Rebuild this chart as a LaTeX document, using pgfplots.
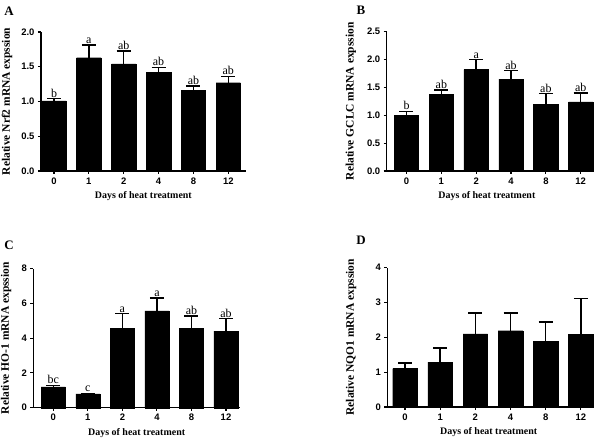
\documentclass[border=0pt]{standalone}
\usepackage{fontspec}
\setmainfont{Liberation Serif}
\setsansfont{Liberation Sans}
\usepackage{pgfplots}
\usepackage{pgfplotstable}
\pgfplotsset{compat=1.18}

\pgfplotstableread{
x y e t lab
0 1.01 0.03 1.04 b
1 1.63 0.18 1.81 a
2 1.54 0.19 1.73 ab
3 1.42 0.07 1.49 ab
4 1.16 0.06 1.22 ab
5 1.27 0.09 1.36 ab
}\dataA
\pgfplotstableread{
x y e t lab
0 1.00 0.07 1.07 b
1 1.37 0.08 1.45 ab
2 1.82 0.18 2.00 a
3 1.65 0.15 1.80 ab
4 1.19 0.20 1.39 ab
5 1.24 0.16 1.40 ab
}\dataB
\pgfplotstableread{
x y e t lab
0 1.20 0.08 1.28 bc
1 0.80 0.03 0.83 c
2 4.57 0.84 5.41 a
3 5.57 0.74 6.31 a
4 4.55 0.73 5.28 ab
5 4.41 0.71 5.12 ab
}\dataC
\pgfplotstableread{
x y e
0 1.10 0.16
1 1.29 0.41
2 2.10 0.60
3 2.19 0.51
4 1.89 0.55
5 2.09 1.03
}\dataD

\pgfplotsset{
  panel/.style={
    scale only axis,
    anchor=south west,
    axis x line*=bottom,
    axis y line*=left,
    axis line style={line width=1.1pt, -},
    tick style={line width=1.1pt, black},
    tick align=outside,
    major tick length=3bp,
    xtick={0,1,2,3,4,5},
    xticklabels={0,1,2,4,8,12},
    ymin=0,
    clip=false,
    /pgf/number format/assume math mode=true,
    ticklabel style={font=\sffamily\bfseries\fontsize{9.5}{10}\selectfont},
    xlabel={Days of heat treatment},
    xlabel style={font=\bfseries\fontsize{10}{12}\selectfont},
    ylabel style={font=\bfseries\fontsize{11.5}{12}\selectfont},
    xlabel style={at={(axis description cs:0.5,-0.18)}, anchor=center},
  },
  bars/.style={
    ybar, bar width=0.7, fill=black, draw=black, bar shift=0pt,
    error bars/.cd, y dir=plus, y explicit,
    error bar style={line width=1.5pt, black},
    error mark options={rotate=90, mark size=7bp, line width=1.5pt, black},
  },
  letters/.style={
    draw=none, mark=none, nodes near coords, point meta=explicit symbolic,
    nodes near coords style={anchor=south, inner sep=1.2pt,
      font=\fontsize{12}{13}\selectfont, text=black},
  },
}

\begin{document}
\begin{tikzpicture}
\useasboundingbox (0,0) rectangle (600bp,442bp);

% Panel A
\begin{axis}[panel,
  at={(41bp,271bp)}, width=204.7bp, height=139bp,
  xmin=-0.373, xmax=5.5, ymax=2.0,
  ytick={0,0.5,1.0,1.5,2.0},
  yticklabel style={/pgf/number format/.cd, fixed, fixed zerofill, precision=1},
  ylabel={Relative Nrf2 mRNA expssion},
  ylabel style={at={(axis description cs:-0.166,0.5)}, anchor=center},
]
\addplot[bars] table[x=x, y=y, y error=e] {\dataA};
\addplot[letters] table[x=x, y=t, meta=lab] {\dataA};
\end{axis}

% Panel B
\begin{axis}[panel,
  at={(386.7bp,271bp)}, width=200.3bp, height=139.3bp,
  xmin=-0.568, xmax=5.18, ymax=2.5,
  ytick={0,0.5,1.0,1.5,2.0,2.5},
  yticklabel style={/pgf/number format/.cd, fixed, fixed zerofill, precision=1},
  ylabel={Relative GCLC mRNA expssion},
  ylabel style={at={(axis description cs:-0.179,0.5)}, anchor=center},
]
\addplot[bars] table[x=x, y=y, y error=e] {\dataB};
\addplot[letters] table[x=x, y=t, meta=lab] {\dataB};
\end{axis}

% Panel C
\begin{axis}[panel,
  at={(33.3bp,34.3bp)}, width=206.7bp, height=139bp,
  xmin=-0.579, xmax=5.405, ymax=8,
  ytick={0,2,4,6,8},
  ylabel={Relative HO-1 mRNA expssion},
  ylabel style={at={(axis description cs:-0.132,0.5)}, anchor=center},
]
\addplot[bars] table[x=x, y=y, y error=e] {\dataC};
\addplot[letters] table[x=x, y=t, meta=lab] {\dataC};
\end{axis}

% Panel D
\begin{axis}[panel,
  at={(387.3bp,35bp)}, width=202.7bp, height=139.3bp,
  xmin=-0.504, xmax=5.26, ymax=4,
  ytick={0,1,2,3,4},
  ylabel={Relative NQO1 mRNA expssion},
  ylabel style={at={(axis description cs:-0.179,0.5)}, anchor=center},
]
\addplot[bars] table[x=x, y=y, y error=e] {\dataD};
\end{axis}

\node[font=\bfseries\fontsize{13}{14}\selectfont] at (9bp,431bp) {A};
\node[font=\bfseries\fontsize{13}{14}\selectfont] at (361bp,432bp) {B};
\node[font=\bfseries\fontsize{13}{14}\selectfont] at (9bp,197bp) {C};
\node[font=\bfseries\fontsize{13}{14}\selectfont] at (361bp,202bp) {D};
\end{tikzpicture}
\end{document}
